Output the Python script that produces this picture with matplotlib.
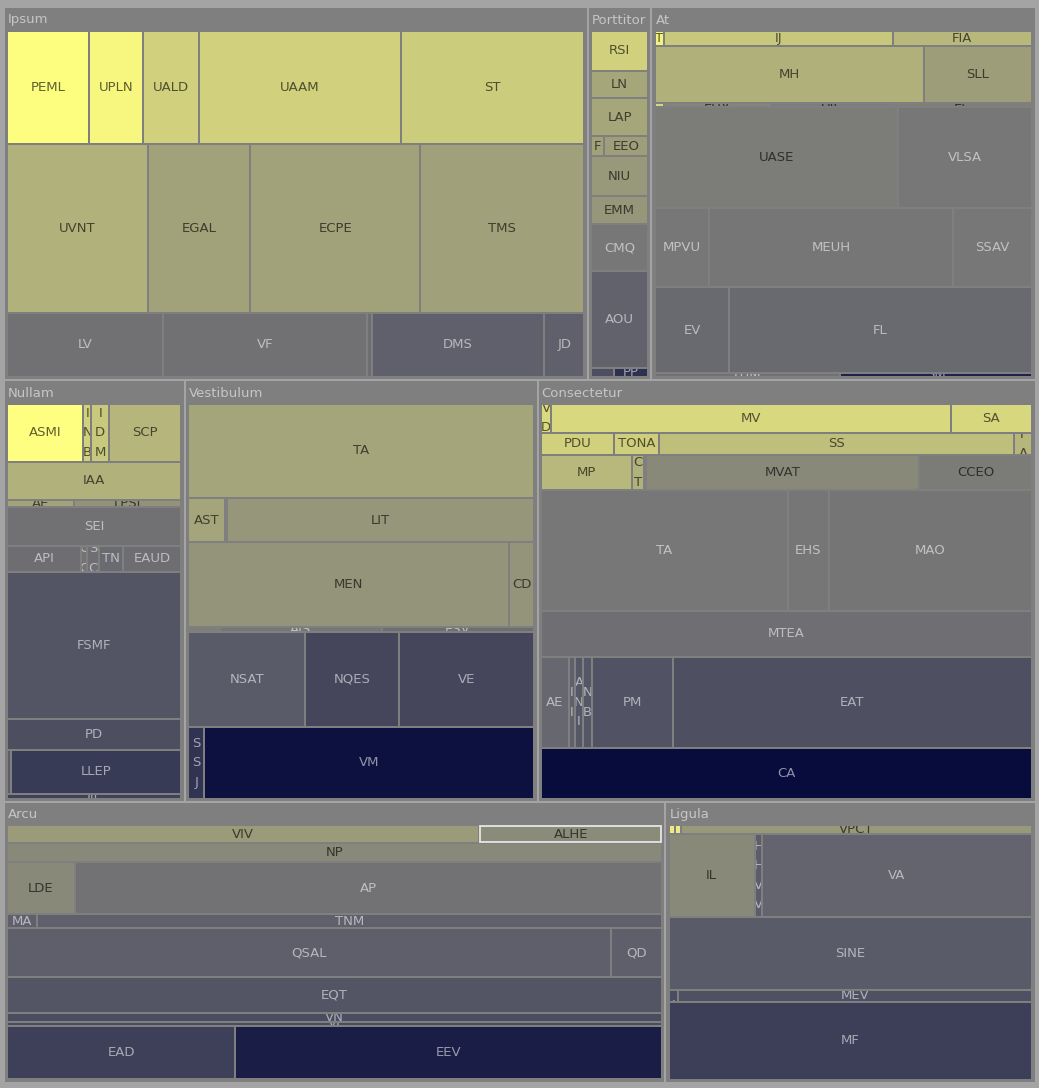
"""
treemap of group / item sizes, coloured by change
"""

import matplotlib
matplotlib.use("Agg")

from matplotlib import pyplot as plt
from matplotlib.colors import LinearSegmentedColormap, Normalize
from matplotlib.patches import Rectangle
from matplotlib.textpath import TextPath
from matplotlib.font_manager import FontProperties


# --------------------------------------------------------------------------------------------------------------------
# data: each group is a list of rows, each row a list of items

GROUP_ROWS = [["Ipsum", "Porttitor", "At"], ["Nullam", "Vestibulum", "Consectetur"], ["Arcu", "Ligula"]]

IPSUM_NAMES = [["PEML", "UPLN", "UALD", "UAAM", "ST"], ["UVNT", "EGAL", "ECPE", "TMS"],
               ["LV", "VF", "NE", "DMS", "JD"]]
IPSUM_SIZES = [[99, 66, 68, 245, 223], [255, 186, 307, 298], [108, 141, 3, 119, 28]]
IPSUM_CHANGE = [[0.98, 0.93, 0.66, 0.65, 0.62], [0.42, 0.30, 0.30, 0.29], [-0.07, -0.07, -0.10, -0.22, -0.22]]

PORTTITOR_NAMES = [["RSI"], ["LN"], ["LAP"], ["F", "EEO"], ["NIU"], ["EMM"], ["CMQ"], ["AOU"], ["UVI", "PP"]]
PORTTITOR_SIZES = [[27.2], [18.2], [25.6], [2.9, 10.6], [26.9], [18.8], [31.6], [64.9], [2.6, 3.8]]
PORTTITOR_CHANGE = [[0.66], [0.34], [0.34], [0.30, 0.28], [0.24], [0.22], [-0.01], [-0.21], [-0.38, -0.66]]

AT_NAMES = [["T", "IJ", "FIA"], ["MH", "SLL"], ["B", "EUV", "UIL", "EL"], ["UASE", "VLSA"],
            ["MPVU", "MEUH", "SSAV"], ["EV", "FL"], ["LUM", "SM"]]
AT_SIZES = [[1.4, 37.3, 22.7], [166.6, 67.0], [0.4, 4.6, 5.2, 6.1], [265.3, 146.9],
            [46.4, 207.6, 67.5], [68.1, 278.6], [9.0, 9.3]]
AT_CHANGE = [[0.90, 0.59, 0.47], [0.41, 0.27], [0.70, 0.10, 0.03, 0.05], [0.03, -0.01],
             [-0.01, -0.02, -0.01], [-0.14, -0.14], [-0.07, -0.80]]

NULLAM_NAMES = [["ASMI", "INB", "IDM", "SCP"], ["IAA"], ["AE", "LPSI"], ["SEI"], ["API", "CC", "SC", "TN", "EAUD"],
                ["FSMF"], ["PD"], ["PE", "LLEP"], ["JIL"]]
NULLAM_SIZES = [[48.4, 5.2, 11.4, 45.9], [72.7], [5.3, 8.5], [73.0], [21.3, 1.7, 3.5, 6.8, 16.7],
                [280.1], [58.7], [2.1, 83.0], [8.2]]
NULLAM_CHANGE = [[0.99, 0.65, 0.60, 0.46], [0.42], [0.32, 0.20], [-0.07], [-0.10, -0.04, -0.09, -0.12, -0.10],
                 [-0.33], [-0.38], [-0.25, -0.57], [-0.50]]

VESTIBULUM_NAMES = [["TA"], ["AST", "AC", "LIT"], ["MEN", "CD"], ["NSTA", "AIS", "ESV"], ["NSAT", "NQES", "VE"],
                    ["SSJ", "VM"]]
VESTIBULUM_SIZES = [[350.9], [17.0, 1.2, 144.4], [290.0, 22.6], [1.7, 8.7, 8.2], [119.1, 96.8, 138.0],
                    [12.1, 252.2]]
VESTIBULUM_CHANGE = [[0.33], [0.33, 0.06, 0.22], [0.21, 0.21], [0.05, -0.02, -0.10], [-0.27, -0.46, -0.46],
                     [-0.64, -0.95]]

CONSECTETUR_NAMES = [["VD", "MV", "SA"], ["PDU", "TONA", "SS", "FA"], ["MP", "CT", "OE", "MVAT", "CCEO"],
                     ["TA", "EHS", "MAO"], ["MTEA"], ["AE", "II", "ANI", "NB", "PM", "EAT"], ["CA"]]
CONSECTETUR_SIZES = [[3.0, 123.9, 25.1], [17.5, 10.9, 85.2, 4.3], [33.4, 4.4, 0.9, 100.5, 41.6],
                     [317.4, 52.4, 261.8], [242.1], [26.6, 6.0, 8.3, 8.0, 78.9, 348.1], [264.7]]
CONSECTETUR_CHANGE = [[0.72, 0.71, 0.70], [0.65, 0.64, 0.53, 0.46], [0.47, 0.42, 0.03, 0.13, 0.02],
                      [-0.01, -0.02, -0.03], [-0.08], [-0.15, -0.22, -0.30, -0.30, -0.35, -0.37], [-1.0]]

ARCU_NAMES = [["VIV", "ALHE"], ["NP"], ["LDE", "AP"], ["MA", "TNM"], ["QSAL", "QD"], ["EQT"], ["VN"], ["VI"],
              ["EAD", "EEV"]]
ARCU_SIZES = [[93.0, 35.9], [137.5], [38.6, 335.2], [4.7, 96.9], [323.6, 27.3], [254.9], [68.7], [27.2],
              [134.6, 251.3]]
ARCU_CHANGE = [[0.26, 0.14], [0.13], [0.13, -0.05], [-0.22, -0.22], [-0.23, -0.23], [-0.33], [-0.40], [-0.40],
               [-0.52, -0.84]]

LIGULA_NAMES = [["TI", "AI", "VPCT"], ["IL", "HHVV", "VA"], ["SINE"], ["NI", "MEV"], ["MF"]]
LIGULA_SIZES = [[0.6, 0.6, 35.1], [78.9, 6.9, 248.5], [291.2], [1.2, 48.0], [312.2]]
LIGULA_CHANGE = [[0.85, 0.85, 0.24], [0.13, -0.25, -0.18], [-0.27], [-0.40, -0.36], [-0.53]]

HIGHLIGHT = ("Arcu", "ALHE")


# --------------------------------------------------------------------------------------------------------------------

groups = {
    "Ipsum": (IPSUM_NAMES, IPSUM_SIZES, IPSUM_CHANGE),
    "Porttitor": (PORTTITOR_NAMES, PORTTITOR_SIZES, PORTTITOR_CHANGE),
    "At": (AT_NAMES, AT_SIZES, AT_CHANGE),
    "Nullam": (NULLAM_NAMES, NULLAM_SIZES, NULLAM_CHANGE),
    "Vestibulum": (VESTIBULUM_NAMES, VESTIBULUM_SIZES, VESTIBULUM_CHANGE),
    "Consectetur": (CONSECTETUR_NAMES, CONSECTETUR_SIZES, CONSECTETUR_CHANGE),
    "Arcu": (ARCU_NAMES, ARCU_SIZES, ARCU_CHANGE),
    "Ligula": (LIGULA_NAMES, LIGULA_SIZES, LIGULA_CHANGE),
}

cmap = LinearSegmentedColormap.from_list("perf", ["#080c3c", "#787878", "#ffff80"])
norm = Normalize(-1.0, 1.0)

FONT_PX = 13.2
FONT_PT = 9.5
LINE_PX = 19.5
font = FontProperties(family="DejaVu Sans")


def rows_layout(x, y, w, h, rows):
    # stack rows top to bottom, items left to right, areas proportional to value
    total = sum(sum(r) for r in rows)
    out = []
    cy = y
    for r in rows:
        rh = h * sum(r) / total
        cx = x
        line = []
        for v in r:
            cw = w * v / sum(r)
            line.append((cx, cy, cw, rh))
            cx += cw
        out.append(line)
        cy += rh
    return out


def text_width(s):
    return TextPath((0, 0), s, size=FONT_PX, prop=font).get_extents().width


def wrap(label, avail):
    if text_width(label) <= avail:
        return [label]
    lines, cur = [], ""
    for ch in label:
        if cur and text_width(cur + ch) > avail:
            lines.append(cur)
            cur = ch
        else:
            cur += ch
    lines.append(cur)
    return lines


# --------------------------------------------------------------------------------------------------------------------

W, H = 1039, 1088
fig = plt.figure(figsize=(W / 100, H / 100), dpi=100, facecolor="#a4a4a4")
ax = fig.add_axes([0, 0, 1, 1])
ax.set_xlim(0, W)
ax.set_ylim(H, 0)
ax.axis("off")

top_sizes = [[sum(sum(r) for r in groups[g][1]) for g in row] for row in GROUP_ROWS]
top_rects = rows_layout(3.5, 7.0, 1032.0, 1075.5, top_sizes)

for row_names, row_rects in zip(GROUP_ROWS, top_rects):
    for gname, (x, y, w, h) in zip(row_names, row_rects):
        gx, gy, gw, gh = x + 1, y + 1, w - 2, h - 2
        ax.add_patch(Rectangle((gx, gy), gw, gh, facecolor="#7f7f7f", edgecolor="none"))
        ax.text(gx + 3, gy + 12, gname, fontsize=FONT_PT, color="#c6c6c6", ha="left", va="center")

        names, sizes, change = groups[gname]
        inner = rows_layout(gx + 2.5, gy + 22.5, gw - 5, gh - 24.5, sizes)

        for nrow, crow, rrow in zip(names, change, inner):
            for name, c, (cx, cy, cw, ch) in zip(nrow, crow, rrow):
                bw, bh = max(cw - 2, 0.6), max(ch - 2, 0.6)
                highlight = (gname, name) == HIGHLIGHT
                rect = Rectangle((cx + 1, cy + 1), bw, bh, facecolor=cmap(norm(c)),
                                 edgecolor="#e6e6e6" if highlight else "none", linewidth=1.3)
                ax.add_patch(rect)

                # too small for any readable part of a label
                if bw < 3 or bh < 1.5 or (bw < 8 and bh < 8):
                    continue

                colour = (0, 0, 0, 0.62) if c >= 0.02 else (1, 1, 1, 0.55)
                lines = wrap(name, bw - 4.5)
                mid = cy + ch / 2
                start = mid - LINE_PX * (len(lines) - 1) / 2
                for i, line in enumerate(lines):
                    t = ax.text(cx + cw / 2, start + i * LINE_PX, line, fontsize=FONT_PT, color=colour,
                                ha="center", va="center", clip_on=True)
                    t.set_clip_path(rect)

fig.savefig("out.png", dpi=100, facecolor=fig.get_facecolor())
